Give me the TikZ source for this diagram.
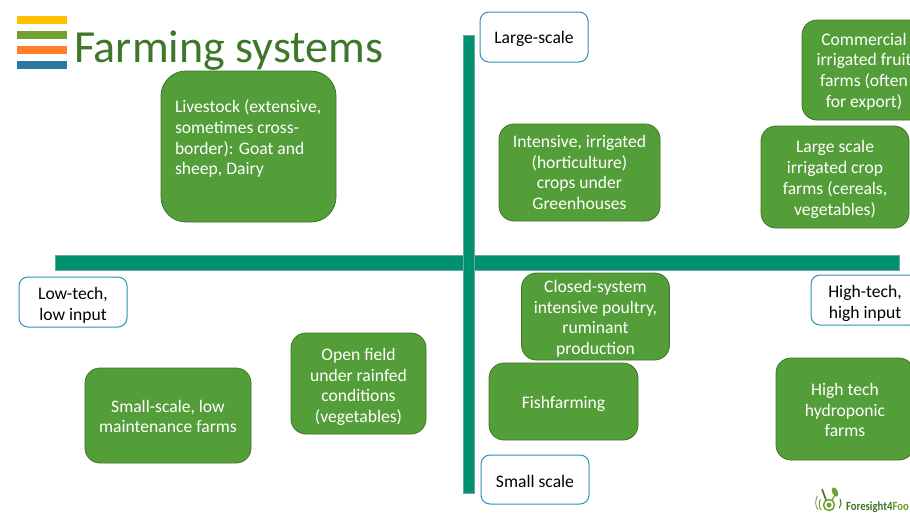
\documentclass[tikz,border=0pt]{standalone}
\usepackage{fontspec}
\setmainfont{Carlito}
\definecolor{boxgreen}{HTML}{549E39}
\definecolor{boxedge}{HTML}{3E7529}
\definecolor{axisgreen}{HTML}{009270}
\definecolor{axisedge}{HTML}{6FA898}
\definecolor{titlegreen}{HTML}{3E762A}
\definecolor{labeledge}{HTML}{2E92B8}
\definecolor{barA}{HTML}{FFC000}
\definecolor{barB}{HTML}{70A030}
\definecolor{barC}{HTML}{FF7F2A}
\definecolor{barD}{HTML}{2878A0}
\newcommand{\bodyfont}{\fontsize{17.6pt}{20.7pt}\selectfont}
\newcommand{\up}[1]{\rule{0pt}{#1pt}}
\tikzset{
  every node/.style={inner sep=0pt,outer sep=0pt},
  farmbox/.style={draw=boxedge,line width=0.8pt,fill=boxgreen,text=white,rounded corners=#1,align=center,font=\bodyfont,text depth=0pt},
  farmbox/.default=15pt,
  labelbox/.style={draw=labeledge,line width=1pt,fill=white,text=black,rounded corners=9pt,align=center,font=\bodyfont,minimum width=108pt,minimum height=50pt,text depth=0pt},
  axisbar/.style={fill=axisgreen,draw=axisedge,line width=0.5pt},
  menubar/.style={minimum width=50pt,minimum height=8pt}
}
\begin{document}
\begin{tikzpicture}[x=1pt,y=-1pt]
\useasboundingbox (0,0) rectangle (910,512);
\clip (0,0) rectangle (910,512);
\fill[white] (0,0) rectangle (910,512);
% menu bars
\node[menubar,fill=barA] (barone) at (42,20) {};
\node[menubar,fill=barB] (bartwo) at (42,35) {};
\node[menubar,fill=barC] (barthree) at (42,50) {};
\node[menubar,fill=barD] (barfour) at (42,65) {};
% axes
\node[axisbar,minimum width=844pt,minimum height=15pt] (haxis) at (477,262.5) {};
\node[axisbar,minimum width=11pt,minimum height=458pt] (vaxis) at (468.5,264) {};
% green boxes
\node[farmbox=25pt,minimum width=175pt,minimum height=151pt] (livestock) at (248.5,146.5) {};
\node[anchor=north west,align=left,text=white,font=\bodyfont] (livetext) at (175,100) {Livestock (extensive,\\sometimes cross-\\border): Goat and\\sheep, Dairy};
\node[farmbox,minimum width=124pt,minimum height=100pt] (commercial) at (864,70) {Commercial\\irrigated fruit\\farms (often\\for export)};
\node[farmbox,minimum width=148pt,minimum height=102pt] (largecrop) at (835,177) {\up{14}Large scale\\irrigated crop\\farms (cereals,\\vegetables)};
\node[farmbox,minimum width=161pt,minimum height=97pt] (intensive) at (579.5,172.5) {Intensive, irrigated\\(horticulture)\\crops under\\Greenhouses};
\node[farmbox,minimum width=148pt,minimum height=87pt] (closed) at (595.5,316.5) {\up{14}Closed-system\\intensive poultry,\\ruminant\\production};
\node[farmbox,minimum width=149pt,minimum height=77pt] (fish) at (563.5,401.5) {\up{14}Fishfarming};
\node[farmbox,minimum width=135pt,minimum height=101pt] (openfield) at (358.5,383.5) {\up{16}Open field\\under rainfed\\conditions\\(vegetables)};
\node[farmbox,minimum width=166pt,minimum height=95pt] (smallscale) at (168,415.5) {\up{14}Small-scale, low\\maintenance farms};
\node[farmbox,minimum width=138pt,minimum height=102pt] (hightech) at (845,409) {\up{14}High tech\\hydroponic\\farms};
% title above the livestock box
\node[anchor=base west,text=titlegreen,font=\fontsize{46pt}{50pt}\selectfont] (title) at (74,62) {Farming systems};
% axis labels
\node[labelbox] (large) at (534,37) {Large-scale};
\node[labelbox] (lowtech) at (73,302) {\up{16}Low-tech,\\low input};
\node[labelbox] (hightechlabel) at (865,300) {\up{16}High-tech,\\high input};
\node[labelbox,minimum height=49pt] (small) at (535,479.5) {\up{16}Small scale};
% logo
\node[anchor=base west,xscale=0.86,font=\bfseries\fontsize{12.5pt}{14pt}\selectfont,text=boxedge] (logotext) at (846,510) {Foresight4\textcolor{barB}{Foo}};
\node[circle,draw=barB,line width=1.5pt,fill=white,minimum size=11pt] (logoring) at (829,505) {};
\node[circle,fill=barB,minimum size=5pt] (logocore) at (829,505) {};
\draw[boxedge,line width=1.6pt] (826,500) -- (822,489);
\fill[barB,rotate around={25:(835,492)}] (835,492) ellipse (2.8pt and 5pt);
\draw[barB,line width=1.2pt] (832,500) -- (835,495);
\draw[barB,line width=1pt] (821,510) arc (215:150:10pt);
\draw[barB,line width=0.8pt] (818,510) arc (215:150:13pt);
\draw[boxedge,line width=1pt] (840,499) arc (30:-40:8pt);
\end{tikzpicture}
\end{document}
